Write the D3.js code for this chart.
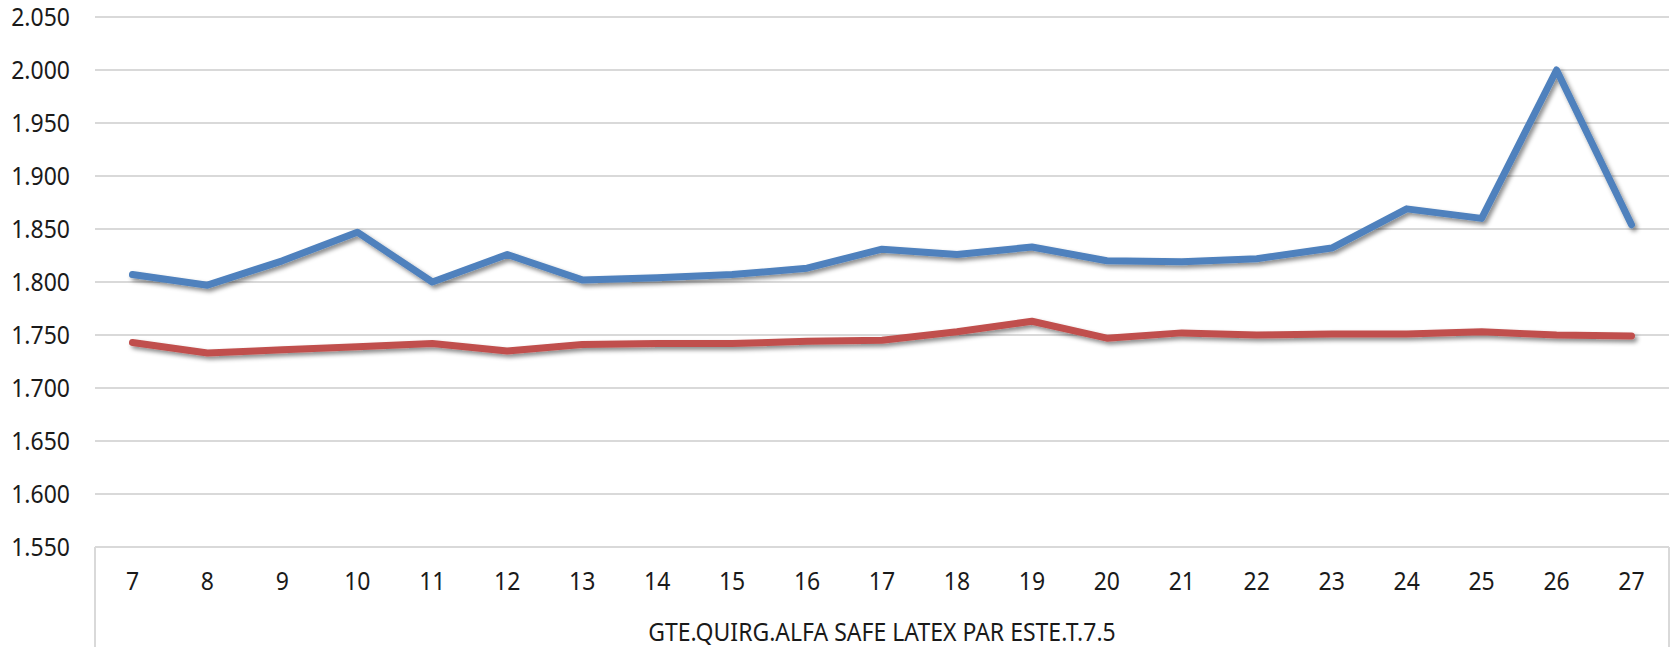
<!DOCTYPE html>
<html>
<head>
<meta charset="utf-8">
<script src="https://cdn.jsdelivr.net/npm/d3@7"></script>
<style>
  html, body { margin: 0; padding: 0; background: #fff; }
  svg { display: block; }
  text { font-family: "Noto Sans", "Open Sans", sans-serif; fill: #1a1a1a; }
</style>
</head>
<body>
<svg id="chart" width="1675" height="647"></svg>
<script>
const categories = ["7","8","9","10","11","12","13","14","15","16","17","18","19","20","21","22","23","24","25","26","27"];
const groupLabel = "GTE.QUIRG.ALFA SAFE LATEX PAR ESTE.T.7.5";
const seriesBlue = [1.807,1.797,1.820,1.847,1.800,1.826,1.802,1.804,1.807,1.813,1.831,1.826,1.833,1.820,1.819,1.822,1.832,1.869,1.860,2.000,1.854];
const seriesRed  = [1.743,1.733,1.736,1.739,1.742,1.735,1.741,1.742,1.742,1.744,1.745,1.753,1.763,1.747,1.752,1.750,1.751,1.751,1.753,1.750,1.749];
const yTicks = [1.550,1.600,1.650,1.700,1.750,1.800,1.850,1.900,1.950,2.000,2.050];

const svg = d3.select("#chart");
const mLeft = 95, mRight = 1669, mTop = 17, mBottom = 547;
const FS = 25, SX = 0.92;   // font size and horizontal condensing of text

const x = d3.scaleBand().domain(categories).range([mLeft, mRight]).padding(0);
const y = d3.scaleLinear().domain([1.55, 2.05]).range([mBottom, mTop]);

const defs = svg.append("defs");
const f = defs.append("filter").attr("id","shadow").attr("x","-5%").attr("y","-50%").attr("width","110%").attr("height","200%");
f.append("feDropShadow").attr("dx",2.5).attr("dy",3).attr("stdDeviation",2).attr("flood-color","#000").attr("flood-opacity",0.45);

const fmt = v => d3.format(".3f")(v);

// gridlines
svg.append("g").selectAll("line").data(yTicks).join("line")
  .attr("x1", mLeft).attr("x2", mRight)
  .attr("y1", d => y(d)).attr("y2", d => y(d))
  .attr("stroke", "#d9d9d9").attr("stroke-width", 2);

// y axis labels
const yPad = 25;
const yAxis = d3.axisLeft(y).tickValues(yTicks).tickFormat(fmt).tickSize(0).tickPadding(yPad);
const gy = svg.append("g").attr("transform", `translate(${mLeft},0)`).call(yAxis);
gy.select(".domain").remove();
gy.selectAll("text").attr("font-size", FS).attr("fill", "#1a1a1a")
  .style("font-family", '"Noto Sans", sans-serif')
  .attr("x", -yPad / SX).attr("transform", `scale(${SX},1)`);

// category box lines
svg.append("line").attr("x1", mLeft).attr("x2", mLeft).attr("y1", mBottom).attr("y2", 647).attr("stroke", "#d9d9d9").attr("stroke-width", 2);
svg.append("line").attr("x1", mRight).attr("x2", mRight).attr("y1", mBottom).attr("y2", 647).attr("stroke", "#d9d9d9").attr("stroke-width", 2);

// x axis labels
const xAxis = d3.axisBottom(x).tickSize(0).tickPadding(25);
const gx = svg.append("g").attr("transform", `translate(0,${mBottom})`).call(xAxis);
gx.select(".domain").remove();
gx.selectAll("text").attr("font-size", FS).attr("fill", "#1a1a1a")
  .style("font-family", '"Noto Sans", sans-serif')
  .attr("transform", `scale(${SX},1)`);

// group label
svg.append("text").attr("x", (mLeft + mRight) / 2 / SX).attr("y", 641)
  .attr("transform", `scale(${SX},1)`)
  .attr("text-anchor", "middle").attr("font-size", FS).text(groupLabel);

// lines
const line = d3.line().x((d, i) => x(categories[i]) + x.bandwidth() / 2).y(d => y(d));
const series = [{values: seriesBlue, color: "#4f81bd"}, {values: seriesRed, color: "#c0504d"}];
svg.append("g").attr("filter", "url(#shadow)").selectAll("path").data(series.slice().reverse()).join("path")
  .attr("d", d => line(d.values))
  .attr("fill", "none").attr("stroke", d => d.color)
  .attr("stroke-width", 7).attr("stroke-linecap", "round").attr("stroke-linejoin", "round");
</script>
</body>
</html>
